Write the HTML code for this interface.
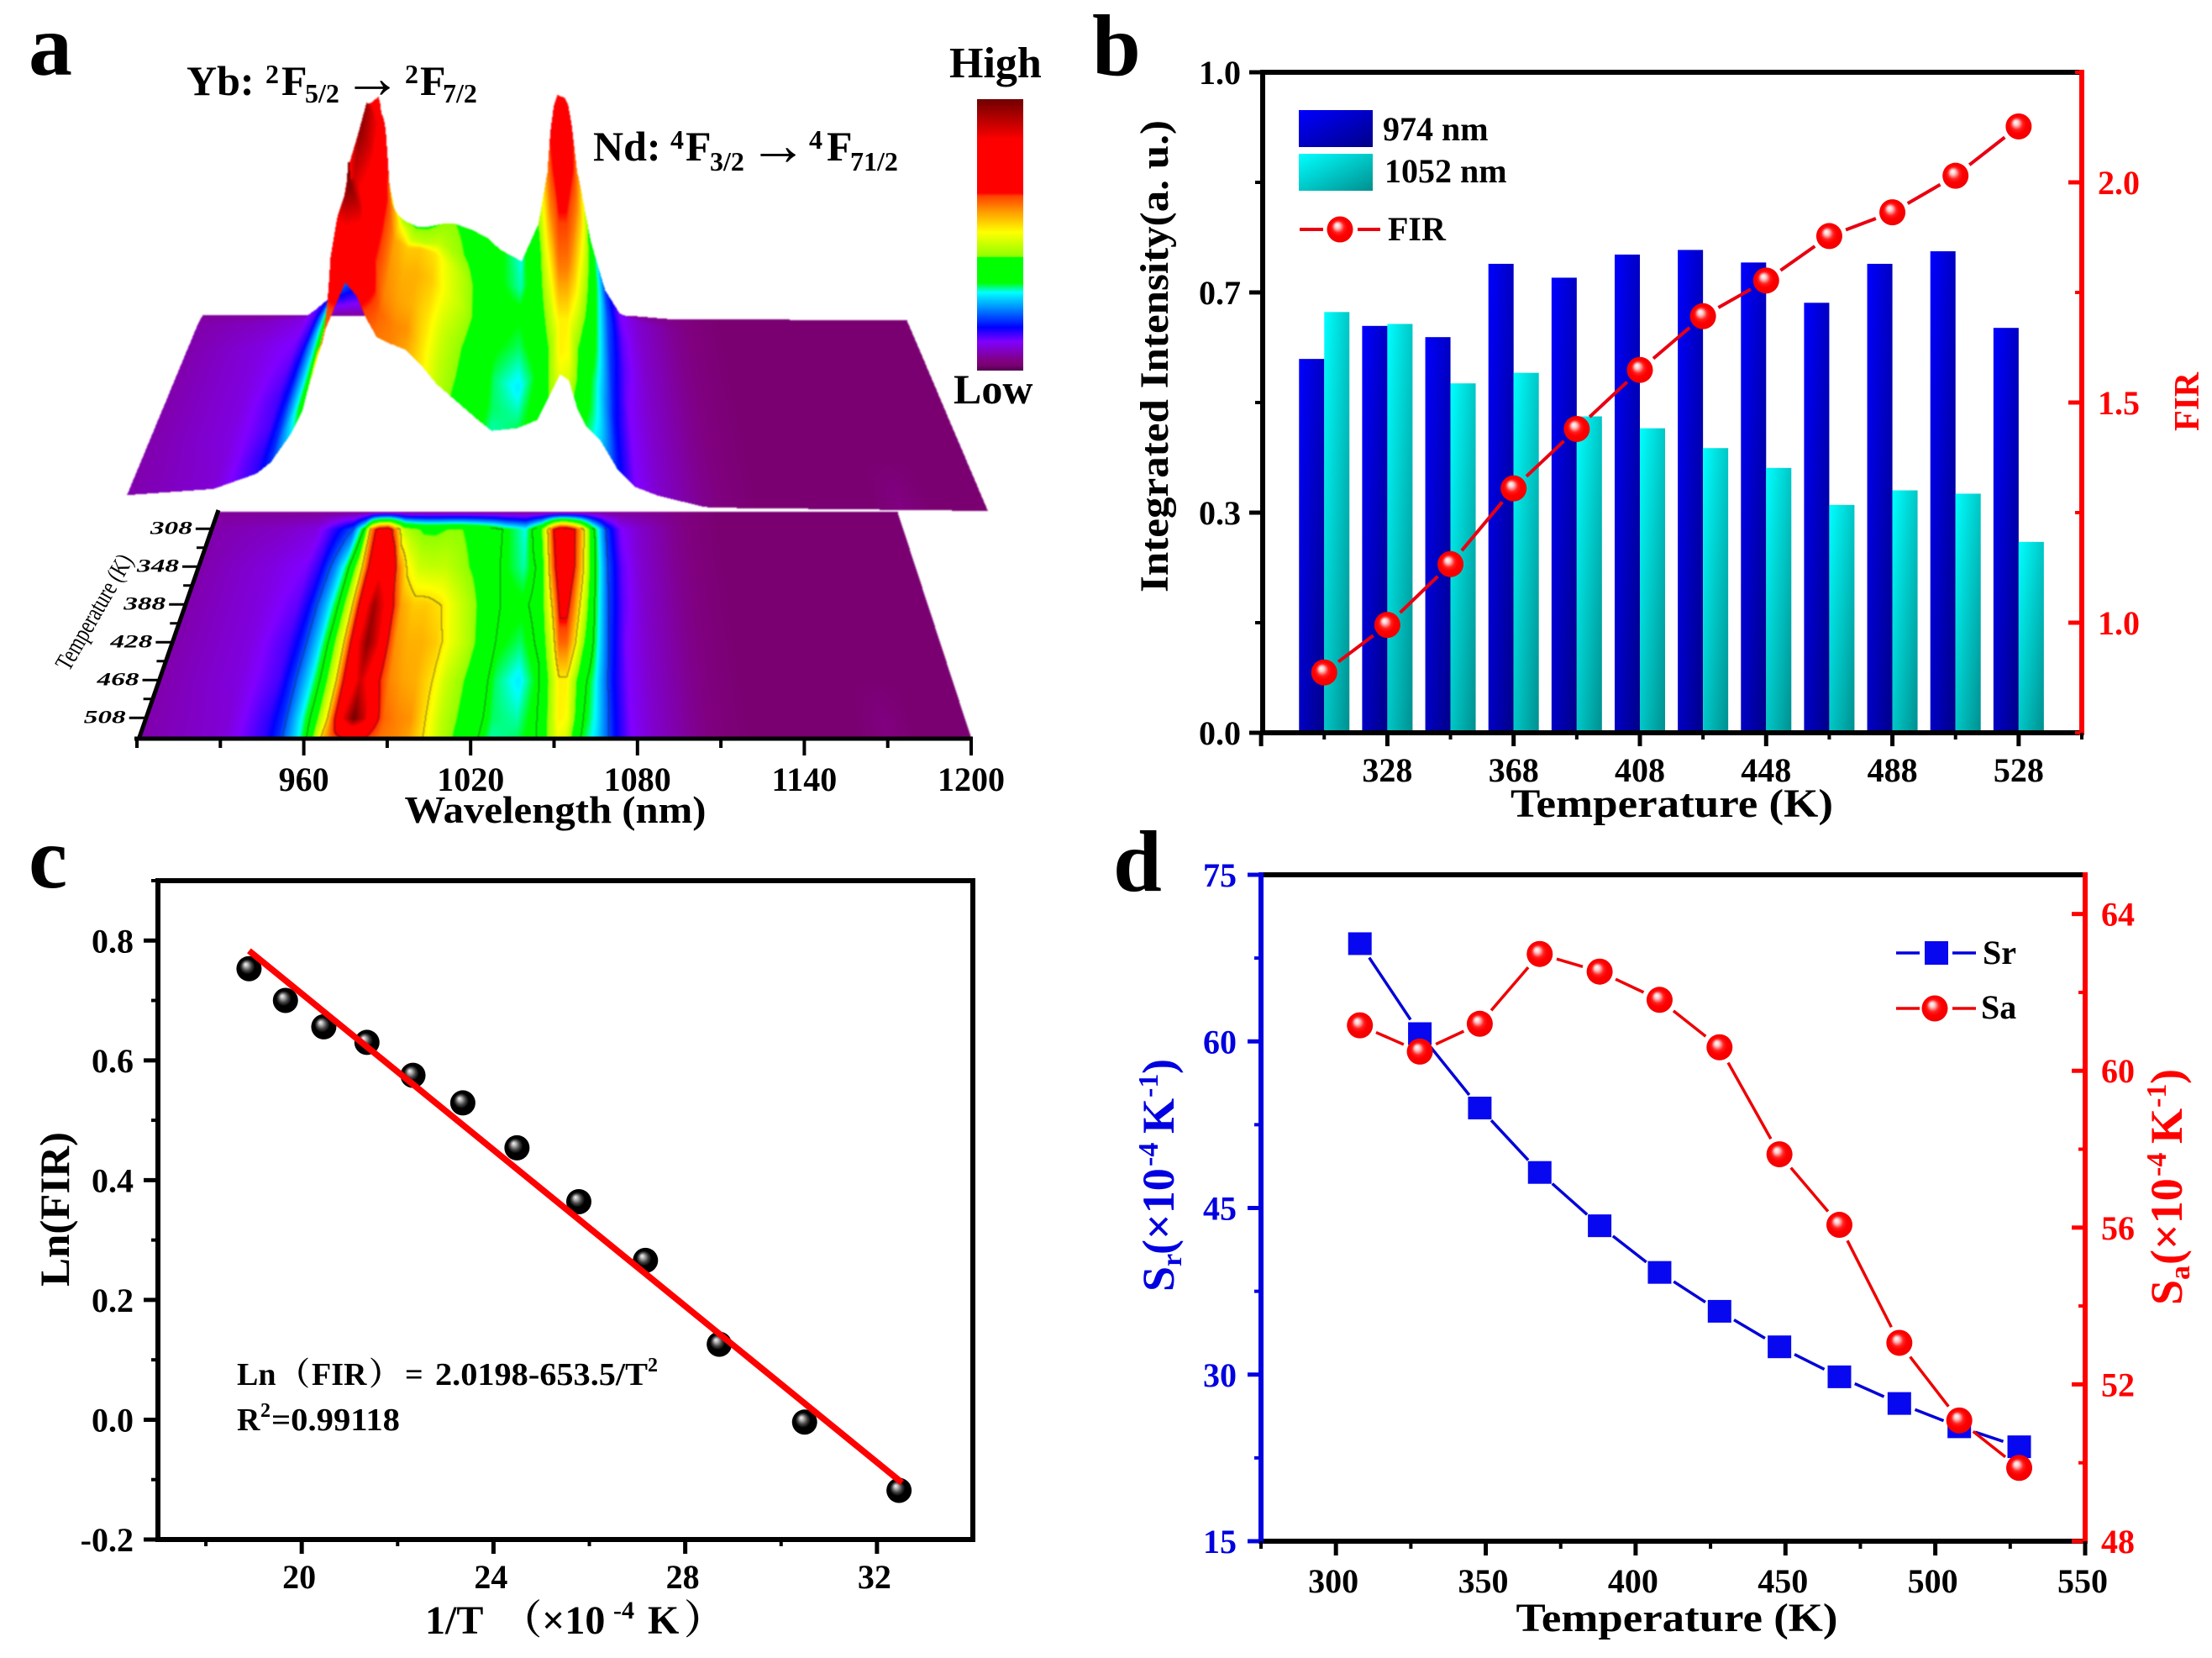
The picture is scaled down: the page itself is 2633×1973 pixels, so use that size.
<!DOCTYPE html>
<html lang="en">
<head>
<meta charset="utf-8">
<title>Four-panel thermometry figure</title>
<style>
html,body{margin:0;padding:0;background:#fff;}
#figure{position:relative;width:2633px;height:1973px;background:#fff;overflow:hidden;}
#surface-canvas{position:absolute;left:0;top:0;filter:blur(0.7px);}
#chart-svg{position:absolute;left:0;top:0;font-family:"Liberation Serif","Noto Serif CJK SC",serif;font-weight:bold;}
</style>
</head>
<body>
<div id="figure">
<canvas id="surface-canvas" width="1240" height="900"></canvas>
<svg id="chart-svg" width="2633" height="1973" viewBox="0 0 2633 1973">
  <defs>
    <linearGradient id="blueBar" x1="0" y1="0" x2="1" y2="1"><stop offset="0" stop-color="#0000ff"/><stop offset="1" stop-color="#000088"/></linearGradient>
    <linearGradient id="cyanBar" x1="0" y1="0" x2="1" y2="1"><stop offset="0" stop-color="#00ffff"/><stop offset="1" stop-color="#008f8f"/></linearGradient>
    <radialGradient id="redSphere" cx="0.5" cy="0.5" r="0.55" fx="0.38" fy="0.33"><stop offset="0" stop-color="#ffffff"/><stop offset="0.18" stop-color="#ffc8c8"/><stop offset="0.42" stop-color="#ff2020"/><stop offset="0.6" stop-color="#ff0000"/><stop offset="1" stop-color="#ee0000"/></radialGradient>
    <radialGradient id="blackSphere" cx="0.5" cy="0.5" r="0.55" fx="0.36" fy="0.32"><stop offset="0" stop-color="#f4f4f4"/><stop offset="0.14" stop-color="#bbbbbb"/><stop offset="0.36" stop-color="#444444"/><stop offset="0.55" stop-color="#000000"/><stop offset="1" stop-color="#000000"/></radialGradient>
    <linearGradient id="colorbarGradient" x1="0" y1="1" x2="0" y2="0"></linearGradient>
  </defs>

  <!-- panel letters -->
  <text x="34" y="89" font-size="104">a</text>
  <text x="1300" y="89" font-size="104">b</text>
  <text x="34" y="1056" font-size="104">c</text>
  <text x="1325" y="1060" font-size="104">d</text>

  <!-- panel a annotation -->
  <g font-size="50">
    <text x="222" y="113">Yb:</text>
    <text x="316" y="99" font-size="32">2</text>
    <text x="335" y="113">F</text>
    <text x="363" y="122" font-size="32">5/2</text>
    <text x="408" y="116" font-size="70" font-weight="normal">→</text>
    <text x="482" y="99" font-size="32">2</text>
    <text x="500" y="113">F</text>
    <text x="527" y="122" font-size="32">7/2</text>
  </g>
  <g font-size="50">
    <text x="706" y="191">Nd:</text>
    <text x="798" y="177" font-size="32">4</text>
    <text x="816" y="191">F</text>
    <text x="845" y="203" font-size="32">3/2</text>
    <text x="891" y="196" font-size="70" font-weight="normal">→</text>
    <text x="963" y="177" font-size="32">4</text>
    <text x="984" y="191">F</text>
    <text x="1012" y="203" font-size="32">71/2</text>
  </g>
  <text x="1130" y="92" font-size="52">High</text>
  <text x="1135" y="480" font-size="50">Low</text>
  <rect x="1163" y="118" width="55" height="323" fill="url(#colorbarGradient)"/>
  <text x="661" y="979" font-size="46" text-anchor="middle" textLength="359" lengthAdjust="spacingAndGlyphs">Wavelength (nm)</text>
  <text transform="translate(82,800) rotate(-60)" font-size="30" font-weight="normal" textLength="154" lengthAdjust="spacingAndGlyphs">Temperature (K)</text>

  <g id="panel-a-axes"></g>
  <g id="panel-b"></g>
  <g id="panel-c"></g>
  <g id="panel-d"></g>

  <!-- panel b titles and legend -->
  <text transform="translate(1390,424) rotate(-90)" font-size="48" text-anchor="middle" textLength="562" lengthAdjust="spacingAndGlyphs">Integrated Intensity(a. u.)</text>
  <text transform="translate(2617,478) rotate(-90)" font-size="42" fill="#ff0000" text-anchor="middle" textLength="70" lengthAdjust="spacingAndGlyphs">FIR</text>
  <text x="1990" y="972" font-size="48" text-anchor="middle" textLength="384" lengthAdjust="spacingAndGlyphs">Temperature (K)</text>
  <g>
    <rect x="1546" y="131" width="88" height="44" fill="url(#blueBar)"/>
    <rect x="1546" y="183" width="88" height="44" fill="url(#cyanBar)"/>
    <text x="1646" y="167" font-size="40">974 nm</text>
    <text x="1648" y="217" font-size="40">1052 nm</text>
    <line x1="1547" y1="273" x2="1575" y2="273" stroke="#e80010" stroke-width="4"/>
    <line x1="1616" y1="273" x2="1643" y2="273" stroke="#e80010" stroke-width="4"/>
    <circle cx="1595" cy="273" r="15.5" fill="url(#redSphere)"/>
    <text x="1652" y="286" font-size="40">FIR</text>
  </g>

  <!-- panel c titles -->
  <text transform="translate(82,1439) rotate(-90)" font-size="50" text-anchor="middle" textLength="184" lengthAdjust="spacingAndGlyphs">Ln(FIR)</text>
  <g font-size="48">
    <text x="506" y="1944">1/T</text>
    <text x="597" y="1944" font-family="'Noto Serif CJK SC',serif">（</text>
    <text x="645" y="1944">×10</text>
    <text x="730" y="1926" font-size="30">-4</text>
    <text x="771" y="1944">K</text>
    <text x="814" y="1944" font-family="'Noto Serif CJK SC',serif">）</text>
  </g>
  <g font-size="38">
    <text x="282" y="1648">Ln</text>
    <text x="331" y="1648" font-family="'Noto Serif CJK SC',serif">（</text>
    <text x="371" y="1648">FIR</text>
    <text x="439" y="1648" font-family="'Noto Serif CJK SC',serif">）</text>
    <text x="482" y="1648">=</text>
    <text x="518" y="1648" textLength="253" lengthAdjust="spacingAndGlyphs">2.0198-653.5/T</text>
    <text x="771" y="1632" font-size="24">2</text>
  </g>
  <g font-size="38">
    <text x="282" y="1702">R</text>
    <text x="310" y="1686" font-size="24">2</text>
    <text x="323" y="1702" textLength="153" lengthAdjust="spacingAndGlyphs">=0.99118</text>
  </g>

  <!-- panel d titles and legend -->
  <g transform="translate(1397,1537) rotate(-90)" fill="#0000e0" font-size="54">
    <text x="0" y="0">S</text><text x="30" y="9" font-size="34">r</text>
    <text x="44" y="0">(×10</text><text x="149" y="-19" font-size="34">-4</text>
    <text x="188" y="0">K</text><text x="231" y="-19" font-size="34">-1</text>
    <text x="259" y="0">)</text>
  </g>
  <g transform="translate(2597,1553) rotate(-90)" fill="#ff0000" font-size="54">
    <text x="0" y="0">S</text><text x="30" y="9" font-size="34">a</text>
    <text x="48" y="0">(×10</text><text x="153" y="-19" font-size="34">-4</text>
    <text x="192" y="0">K</text><text x="235" y="-19" font-size="34">-1</text>
    <text x="263" y="0">)</text>
  </g>
  <text x="1996" y="1941" font-size="48" text-anchor="middle" textLength="383" lengthAdjust="spacingAndGlyphs">Temperature (K)</text>
  <g>
    <line x1="2257" y1="1134" x2="2285" y2="1134" stroke="#0000e0" stroke-width="3.5"/>
    <line x1="2324" y1="1134" x2="2352" y2="1134" stroke="#0000e0" stroke-width="3.5"/>
    <rect x="2291" y="1120" width="28" height="28" fill="#0808f0"/>
    <text x="2360" y="1147" font-size="40">Sr</text>
    <line x1="2257" y1="1200" x2="2285" y2="1200" stroke="#ee0000" stroke-width="3.5"/>
    <line x1="2324" y1="1200" x2="2352" y2="1200" stroke="#ee0000" stroke-width="3.5"/>
    <circle cx="2303" cy="1200" r="15.5" fill="url(#redSphere)"/>
    <text x="2358" y="1212" font-size="40">Sa</text>
  </g>
</svg>
</div>
<script>
/* ---------- panel a data ---------- */
const wavelengths = [900,930,945,950,957,961,966,969,972,976,980,983,987,992,997,1003,1008,1015,1022,1027,1036,1043,1048,1051,1054,1057,1060,1065,1071,1077,1085,1100,1110,1120,1160,1170,1180,1200];
const surfaceTemps = [290,308,348,388,428,468,508,528];
const intensity290 = [.05,.05,.05,.05,.05,.05,.05,.05,.05,.05,.05,.05,.05,.05,.05,.05,.05,.05,.05,.05,.05,.05,.05,.05,.05,.05,.05,.05,.05,.05,.05,.04,.03,.02,.02,.02,.02,.02];
const intensity308 = [.06,.075,.09,.12,.17,.20,.36,.60,.70,.73,.58,.46,.43,.41,.41,.42,.42,.40,.37,.33,.29,.42,.66,.74,.73,.67,.58,.36,.19,.11,.08,.045,.03,.02,.02,.02,.02,.02];
const intensity348 = [.06,.09,.11,.14,.23,.30,.44,.58,.72,.82,.78,.62,.52,.47,.46,.46,.44,.41,.37,.33,.30,.36,.62,.73,.73,.66,.56,.36,.20,.12,.08,.045,.03,.02,.02,.02,.02,.02];
const intensity388 = [.06,.09,.12,.16,.26,.33,.48,.62,.80,.95,.86,.68,.58,.55,.55,.53,.49,.44,.38,.34,.33,.36,.54,.68,.68,.60,.50,.34,.19,.12,.08,.045,.03,.02,.02,.02,.02,.02];
const intensity428 = [.06,.09,.13,.17,.27,.35,.50,.64,.84,.97,.88,.68,.59,.57,.57,.55,.50,.45,.38,.33,.31,.35,.48,.62,.62,.54,.44,.32,.18,.11,.08,.045,.03,.02,.02,.02,.02,.02];
const intensity468 = [.06,.09,.13,.18,.28,.35,.50,.64,.78,.90,.80,.66,.60,.58,.57,.53,.47,.42,.36,.31,.28,.33,.44,.52,.52,.44,.36,.29,.17,.11,.08,.045,.03,.02,.02,.02,.02,.02];
const intensity508 = [.06,.085,.14,.18,.29,.36,.52,.66,.86,1.0,.90,.70,.62,.60,.59,.52,.46,.41,.35,.31,.30,.34,.44,.52,.51,.42,.34,.28,.17,.11,.08,.045,.03,.02,.02,.035,.02,.02];
const intensity528 = [.06,.085,.14,.18,.28,.36,.56,.62,.65,.69,.67,.64,.61,.60,.58,.52,.46,.40,.34,.30,.31,.34,.44,.50,.48,.38,.32,.27,.17,.11,.08,.045,.03,.02,.02,.035,.02,.02];
const surfaceRows = [intensity290,intensity308,intensity348,intensity388,intensity428,intensity468,intensity508,intensity528];
const colorLevels = [0,.02,.035,.107,.159,.288,.324,.417,.42,.51,.582,.644,.654,.85,1];
const colorNames = ['#500050','#7a0072','#800080','#8000ff','#0000ff','#00ffff','#00ff00','#00ff00','#90ff00','#ffff00','#ffa000','#ff4000','#ff0000','#ff0000','#700000'];
const contourLevels = [.2,.34,.53,.66];
const wavelengthTicks = [900,930,960,990,1020,1050,1080,1110,1140,1170,1200];
const wavelengthTickLabels = ['', '', '960', '', '1020', '', '1080', '', '1140', '', '1200'];
const depthTicks = [308,328,348,368,388,408,428,448,468,488,508];
const depthTickLabels = ['308','','348','','388','','428','','468','','508'];

/* ---------- panel b data ---------- */
const barTemps = [308,328,348,368,388,408,428,448,468,488,508,528];
const intensity974 = [.566,.616,.599,.710,.689,.724,.731,.712,.651,.710,.729,.613];
const intensity1052 = [.637,.619,.529,.545,.479,.461,.431,.401,.345,.367,.362,.289];
const firValues = [.887,.995,1.133,1.305,1.440,1.574,1.696,1.777,1.878,1.932,2.015,2.127];
const bIntensityTicks = [0,.3333,.6667,1];
const bIntensityLabels = ['0.0','0.3','0.7','1.0'];
const bFirTicks = [1,1.5,2];
const bFirLabels = ['1.0','1.5','2.0'];
const bTempLabels = [328,368,408,448,488,528];

/* ---------- panel c data ---------- */
const inverseT = [18.9,19.66,20.46,21.36,22.32,23.36,24.49,25.78,27.17,28.71,30.49,32.46];
const lnFir = [.753,.700,.656,.630,.575,.529,.454,.364,.266,.126,-.004,-.118];
const fitX = [18.9,32.52];
const fitY = [.783,-.105];
const cYTicks = [-.2,0,.2,.4,.6,.8];
const cXTicks = [20,24,28,32];

/* ---------- panel d data ---------- */
const sensTemps = [308,328,348,368,388,408,428,448,468,488,508,528];
const srValues = [68.8,60.7,54.0,48.2,43.4,39.2,35.7,32.5,29.8,27.4,25.3,23.5];
const saValues = [61.16,60.49,61.2,62.98,62.53,61.81,60.6,57.87,56.07,53.06,51.08,49.87];
const dSrTicks = [15,30,45,60,75];
const dSaTicks = [48,52,56,60,64];
const dXTicks = [300,350,400,450,500,550];

/* ---------- helpers ---------- */
const NS = 'http://www.w3.org/2000/svg';
function svgEl(tag, attrs, parent) {
  const el = document.createElementNS(NS, tag);
  for (const k in attrs) el.setAttribute(k, attrs[k]);
  parent.appendChild(el);
  return el;
}
function line(parent, name, x1, y1, x2, y2, color, width) {
  const el = svgEl('line', {x1, y1, x2, y2, stroke: color, 'stroke-width': width}, parent);
  
  
  return el;
}
function label(parent, name, x, y, str, anchor, size, color) {
  const el = svgEl('text', {x, y, 'text-anchor': anchor, 'font-size': size, fill: color}, parent);
  el.textContent = str;
  
  
  return el;
}
function sphere(parent, name, cx, cy, r, fill) {
  const el = svgEl('circle', {cx, cy, r, fill}, parent);
  
  
  return el;
}
function gapLine(parent, name, xs, ys, gap, color, width) {
  for (let i = 0; i + 1 < xs.length; i++) {
    const dx = xs[i+1] - xs[i], dy = ys[i+1] - ys[i], len = Math.hypot(dx, dy);
    if (len <= 2 * gap) continue;
    const ux = dx / len, uy = dy / len;
    line(parent, name + '-segment-' + i, xs[i] + ux * gap, ys[i] + uy * gap, xs[i+1] - ux * gap, ys[i+1] - uy * gap, color, width);
  }
}

/* ---------- panel a rendering ---------- */
const colorLut = (function () {
  const parsed = colorNames.map(c => [parseInt(c.slice(1,3),16), parseInt(c.slice(3,5),16), parseInt(c.slice(5,7),16)]);
  const lut = [];
  for (let i = 0; i <= 2000; i++) {
    const v = i / 2000;
    let k = 0;
    while (k < colorLevels.length - 2 && v > colorLevels[k+1]) k++;
    const f = Math.min(1, Math.max(0, (v - colorLevels[k]) / (colorLevels[k+1] - colorLevels[k])));
    lut.push([0,1,2].map(c => parsed[k][c] + (parsed[k+1][c] - parsed[k][c]) * f));
  }
  return lut;
})();
function colorOf(v) { return colorLut[Math.max(0, Math.min(2000, Math.round(v * 2000)))]; }
function valueAt(w, T) {
  let i = 0;
  while (i < wavelengths.length - 2 && w > wavelengths[i+1]) i++;
  let j = 0;
  while (j < surfaceTemps.length - 2 && T > surfaceTemps[j+1]) j++;
  const fx = Math.max(0, Math.min(1, (w - wavelengths[i]) / (wavelengths[i+1] - wavelengths[i])));
  const fy = Math.max(0, Math.min(1, (T - surfaceTemps[j]) / (surfaceTemps[j+1] - surfaceTemps[j])));
  const a = surfaceRows[j][i] + (surfaceRows[j][i+1] - surfaceRows[j][i]) * fx;
  const b = surfaceRows[j+1][i] + (surfaceRows[j+1][i+1] - surfaceRows[j+1][i]) * fx;
  return a + (b - a) * fy;
}
function surfaceHeight(v) {
  if (v < .04) return 0;
  if (v < .6) return 340 * (v - .04);
  if (v < .7) return 190 + 810 * (v - .6);
  if (v < .97) return 271 + 300 * (v - .7);
  return 352 + 1300 * (v - .97);
}
(function renderSurface() {
  const canvas = document.getElementById('surface-canvas');
  const ctx = canvas.getContext('2d');
  const W = canvas.width, H = canvas.height;
  const img = ctx.createImageData(W, H);
  const px = img.data;
  function put(x, y, c, alpha) {
    if (x < 0 || y < 0 || x >= W || y >= H) return;
    const o = (y * W + x) * 4;
    px[o] = c[0]; px[o+1] = c[1]; px[o+2] = c[2]; px[o+3] = alpha;
  }
  /* raised surface: painted back to front, column by column */
  const steps = 800;
  for (let x = 145; x < 1185; x++) {
    let prev = null;
    for (let s = 0; s <= steps; s++) {
      const d = s / steps;
      const xL = 241 - 90 * d, xR = 1079 + 96 * d;
      const f = (x - xL) / (xR - xL);
      if (f < 0 || f > 1) continue;
      const v = valueAt(900 + 300 * f, 290 + 240 * d);
      const yL = 378 + 217 * d, yR = 381 + 226 * d;
      const y = Math.round(yL + (yR - yL) * f - surfaceHeight(v));
      const c = colorOf(v);
      const from = prev === null ? y : Math.min(prev, y);
      const to = prev === null ? y : Math.max(prev, y);
      for (let py = from; py <= to; py++) put(x, py, c, 255);
      prev = y;
    }
  }
  /* projected map with contour lines */
  const bandAt = v => { let b = 0; for (const l of contourLevels) if (v > l) b++; return b; };
  const top = 609, bottom = 879;
  let prevRow = null;
  for (let y = top; y < bottom; y++) {
    const d = (y - top) / (bottom - top);
    const xL = 260 - 95 * d, xR = 1068 + 88 * d;
    const row = new Int8Array(W);
    for (let x = Math.ceil(xL); x <= xR && x < W; x++) {
      const f = (x - xL) / (xR - xL);
      const v = valueAt(900 + 300 * f, 290 + 240 * d);
      const band = bandAt(v);
      row[x] = band + 1;
      let c = colorOf(v);
      const edge = (row[x-1] && row[x-1] !== row[x]) || (prevRow && prevRow[x] && prevRow[x] !== row[x]);
      if (edge && y > top + 18) c = c.map(ch => ch * .4 + 20);
      put(x, y, c, 255);
    }
    prevRow = row;
  }
  ctx.putImageData(img, 0, 0);
})();
(function renderColorbar() {
  const grad = document.getElementById('colorbarGradient');
  colorLevels.forEach((level, i) => {
    svgEl('stop', {offset: level, 'stop-color': colorNames[i]}, grad);
  });
})();
(function renderPanelAAxes() {
  const g = document.getElementById('panel-a-axes');
  const xAt = w => 163 + (w - 900) * 3.31;
  line(g, 'wavelength-axis-line', 160, 879, 1158, 879, '#000', 5);
  line(g, 'temperature-depth-axis-line', 165, 880, 260, 607, '#000', 5);
  wavelengthTicks.forEach((w, i) => {
    const major = wavelengthTickLabels[i] !== '';
    line(g, 'wavelength-tick-' + w, xAt(w), 879, xAt(w), major ? 899 : 890, '#000', 4);
    if (major) label(g, 'wavelength-tick-label-' + w, xAt(w), 941, wavelengthTickLabels[i], 'middle', 40, '#000');
  });
  depthTicks.forEach((T, i) => {
    const d = (T - 290) / 240;
    const x = 260 - 95 * d, y = 609 + 270 * d;
    const major = depthTickLabels[i] !== '';
    line(g, 'depth-tick-' + T, x, y, x - (major ? 20 : 11), y, '#000', 3);
    if (major) {
      const t = label(g, 'depth-tick-label-' + T, x - 24, y + 6, depthTickLabels[i], 'end', 22, '#000');
      t.setAttribute('font-style', 'italic');
      t.setAttribute('textLength', 50);
      t.setAttribute('lengthAdjust', 'spacingAndGlyphs');
    }
  });
})();

/* ---------- panel b rendering ---------- */
const bX = T => 1503 + (T - 288.5) * 975 / 259.5;
const bY = v => 872 - v * 786;
const bFirY = v => 872 - (v - .75) * 786 / 1.5;
(function renderPanelB() {
  const g = document.getElementById('panel-b');
  barTemps.forEach((T, i) => {
    const blue = svgEl('rect', {x: bX(T) - 30, y: bY(intensity974[i]), width: 30, height: 872 - bY(intensity974[i]), fill: 'url(#blueBar)'}, g);
    
    
    const cyan = svgEl('rect', {x: bX(T), y: bY(intensity1052[i]), width: 30, height: 872 - bY(intensity1052[i]), fill: 'url(#cyanBar)'}, g);
    
    
  });
  line(g, 'panel-b-top-axis', 1500, 86, 2481, 86, '#000', 6);
  line(g, 'panel-b-bottom-axis', 1500, 872, 2481, 872, '#000', 6);
  line(g, 'panel-b-left-axis', 1503, 83, 1503, 875, '#000', 6);
  line(g, 'panel-b-right-axis', 2478, 83, 2478, 875, '#ff0000', 6);
  bIntensityTicks.forEach((v, i) => {
    line(g, 'intensity-tick-' + i, 1487, bY(v), 1503, bY(v), '#000', 5);
    label(g, 'intensity-tick-label-' + i, 1477, bY(v) + 14, bIntensityLabels[i], 'end', 40, '#000');
    if (i < bIntensityTicks.length - 1) {
      const mid = (v + bIntensityTicks[i+1]) / 2;
      line(g, 'intensity-minor-tick-' + i, 1494, bY(mid), 1503, bY(mid), '#000', 4);
    }
  });
  bFirTicks.forEach((v, i) => {
    line(g, 'fir-tick-' + i, 2462, bFirY(v), 2478, bFirY(v), '#ff0000', 5);
    label(g, 'fir-tick-label-' + i, 2497, bFirY(v) + 14, bFirLabels[i], 'start', 40, '#ff0000');
    const mid = v - .25;
    line(g, 'fir-minor-tick-' + i, 2470, bFirY(mid), 2478, bFirY(mid), '#ff0000', 4);
  });
  line(g, 'fir-minor-tick-top', 2470, bFirY(2.25), 2478, bFirY(2.25), '#ff0000', 4);
  for (let T = 288; T <= 548; T += 20) {
    const major = (T - 288) % 40 === 0;
    line(g, 'temperature-tick-' + T, bX(T), 872, bX(T), major ? 888 : 880, '#000', major ? 5 : 4);
  }
  bTempLabels.forEach(T => {
    label(g, 'temperature-tick-label-' + T, bX(T), 930, String(T), 'middle', 40, '#000');
  });
  const xs = barTemps.map(bX), ys = firValues.map(bFirY);
  gapLine(g, 'fir-line', xs, ys, 21, '#e80010', 4);
  barTemps.forEach((T, i) => {
    sphere(g, 'fir-point-' + T, xs[i], ys[i], 15.5, 'url(#redSphere)');
  });
})();

/* ---------- panel c rendering ---------- */
const cX = v => 188 + (v - 17) * 970 / 17;
const cY = v => 1832 - (v + .2) * 784 / 1.1;
(function renderPanelC() {
  const g = document.getElementById('panel-c');
  const frame = svgEl('rect', {x: 188, y: 1048, width: 970, height: 784, fill: 'none', stroke: '#000', 'stroke-width': 6}, g);
  
  
  cYTicks.forEach((v, i) => {
    line(g, 'ln-fir-tick-' + i, 171, cY(v), 188, cY(v), '#000', 5);
    label(g, 'ln-fir-tick-label-' + i, 159, cY(v) + 14, v.toFixed(1), 'end', 40, '#000');
    const m = v + .1;
    line(g, 'ln-fir-minor-tick-' + i, 180, cY(m), 188, cY(m), '#000', 4);
  });
  cXTicks.forEach(v => {
    line(g, 'inverse-t-tick-' + v, cX(v), 1832, cX(v), 1849, '#000', 5);
    label(g, 'inverse-t-tick-label-' + v, cX(v) - 3, 1890, String(v), 'middle', 40, '#000');
    line(g, 'inverse-t-minor-tick-' + v, cX(v - 2), 1832, cX(v - 2), 1840, '#000', 4);
  });
  inverseT.forEach((x, i) => {
    sphere(g, 'ln-fir-point-' + i, cX(x), cY(lnFir[i]), 15, 'url(#blackSphere)');
  });
  line(g, 'linear-fit-line', cX(fitX[0]), cY(fitY[0]), cX(fitX[1]), cY(fitY[1]), '#ff0000', 7.5);
})();

/* ---------- panel d rendering ---------- */
const dX = T => 1501 + (T - 275) * 981 / 275;
const dSrY = v => 1834 - (v - 15) * 793 / 60;
const dSaY = v => 1834 - (v - 48) * 793 / 17;
(function renderPanelD() {
  const g = document.getElementById('panel-d');
  line(g, 'panel-d-top-axis', 1498, 1041, 2485, 1041, '#000', 6);
  line(g, 'panel-d-bottom-axis', 1498, 1834, 2485, 1834, '#000', 6);
  line(g, 'panel-d-left-axis', 1501, 1038, 1501, 1837, '#0000e0', 6);
  line(g, 'panel-d-right-axis', 2482, 1038, 2482, 1837, '#ff0000', 6);
  dSrTicks.forEach((v, i) => {
    line(g, 'sr-tick-' + v, 1485, dSrY(v), 1501, dSrY(v), '#0000e0', 5);
    label(g, 'sr-tick-label-' + v, 1472, dSrY(v) + 14, String(v), 'end', 40, '#0000e0');
    if (i < dSrTicks.length - 1) {
      const m = v + 7.5;
      line(g, 'sr-minor-tick-' + v, 1493, dSrY(m), 1501, dSrY(m), '#0000e0', 4);
    }
  });
  dSaTicks.forEach(v => {
    line(g, 'sa-tick-' + v, 2466, dSaY(v), 2482, dSaY(v), '#ff0000', 5);
    label(g, 'sa-tick-label-' + v, 2501, dSaY(v) + 14, String(v), 'start', 40, '#ff0000');
    if (v < 64) line(g, 'sa-minor-tick-' + v, 2474, dSaY(v + 2), 2482, dSaY(v + 2), '#ff0000', 4);
  });
  dXTicks.forEach(T => {
    line(g, 'sens-temperature-tick-' + T, dX(T), 1834, dX(T), 1851, '#000', 5);
    label(g, 'sens-temperature-tick-label-' + T, dX(T) - 3, 1895, String(T), 'middle', 40, '#000');
    line(g, 'sens-temperature-minor-tick-' + T, dX(T - 25), 1834, dX(T - 25), 1843, '#000', 4);
  });
  const xs = sensTemps.map(dX), srY = srValues.map(dSrY), saY = saValues.map(dSaY);
  gapLine(g, 'sr-line', xs, srY, 20, '#0000d8', 3.5);
  sensTemps.forEach((T, i) => {
    const sq = svgEl('rect', {x: xs[i] - 14, y: srY[i] - 13.5, width: 28, height: 27, fill: '#0808f0'}, g);
    
    
  });
  gapLine(g, 'sa-line', xs, saY, 21, '#ee0000', 3.5);
  sensTemps.forEach((T, i) => {
    sphere(g, 'sa-point-' + T, xs[i], saY[i], 15.5, 'url(#redSphere)');
  });
})();
</script>
</body>
</html>
